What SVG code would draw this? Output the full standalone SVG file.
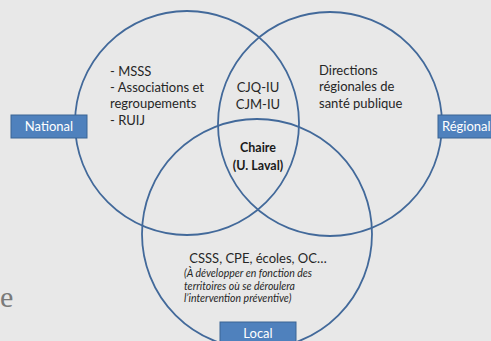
<svg xmlns="http://www.w3.org/2000/svg" width="491" height="341" viewBox="0 0 491 341">
<style>
.circ{fill:none;stroke:#42699a;stroke-width:1.8}
.box{fill:#4f81bd;stroke:#3a6594;stroke-width:1}
.lbl{font-family:Lato,"Open Sans",sans-serif;font-size:13px;fill:#ffffff;text-anchor:middle}
.t{font-family:Lato,"Open Sans",sans-serif;font-size:13px;fill:#262626}
.b{font-family:Lato,"Open Sans",sans-serif;font-size:12.5px;font-weight:bold;fill:#1a1a1a;text-anchor:middle}
.i{font-family:Lato,"Open Sans",sans-serif;font-size:10.5px;font-style:italic;fill:#262626}
</style>
<rect width="491" height="341" fill="#e8e8e8"/>
<text x="0" y="307" font-family="'Liberation Serif',serif" font-size="30" fill="#7a7a7a">e</text>
<g id="circles">
<circle id="national-circle" class="circ" cx="187" cy="123" r="112"/>
<circle id="regional-circle" class="circ" cx="330" cy="124" r="112"/>
<circle id="local-circle" class="circ" cx="257" cy="234" r="115"/>
</g>
<g id="national">
<rect class="box" x="11" y="115" width="76" height="23"/>
<text class="lbl" x="49" y="131">National</text>
</g>
<g id="regional">
<rect class="box" x="438" y="115" width="60" height="23"/>
<text class="lbl" x="442" y="131" style="text-anchor:start">Régional</text>
</g>
<g id="local">
<rect class="box" x="220" y="322" width="76" height="25"/>
<text class="lbl" x="258" y="338">Local</text>
</g>
<g id="national-text">
<text class="t" x="110" y="76">- MSSS</text>
<text class="t" x="110" y="92">- Associations et</text>
<text class="t" x="110" y="108">regroupements</text>
<text class="t" x="110" y="125">- RUIJ</text>
</g>
<g id="intersection-text">
<text class="t" x="258" y="92" text-anchor="middle">CJQ-IU</text>
<text class="t" x="258" y="109" text-anchor="middle">CJM-IU</text>
</g>
<g id="regional-text">
<text class="t" x="319" y="75">Directions</text>
<text class="t" x="319" y="91">régionales de</text>
<text class="t" x="319" y="108">santé publique</text>
</g>
<g id="chaire">
<text class="b" x="258" y="152">Chaire</text>
<text class="b" x="258" y="170">(U. Laval)</text>
</g>
<g id="local-text">
<text class="t" x="258" y="263" text-anchor="middle">CSSS, CPE, écoles, OC…</text>
<text class="i" x="184" y="277">(À développer en fonction des</text>
<text class="i" x="184" y="289.5">territoires où se déroulera</text>
<text class="i" x="184" y="302">l’intervention préventive)</text>
</g>
</svg>
